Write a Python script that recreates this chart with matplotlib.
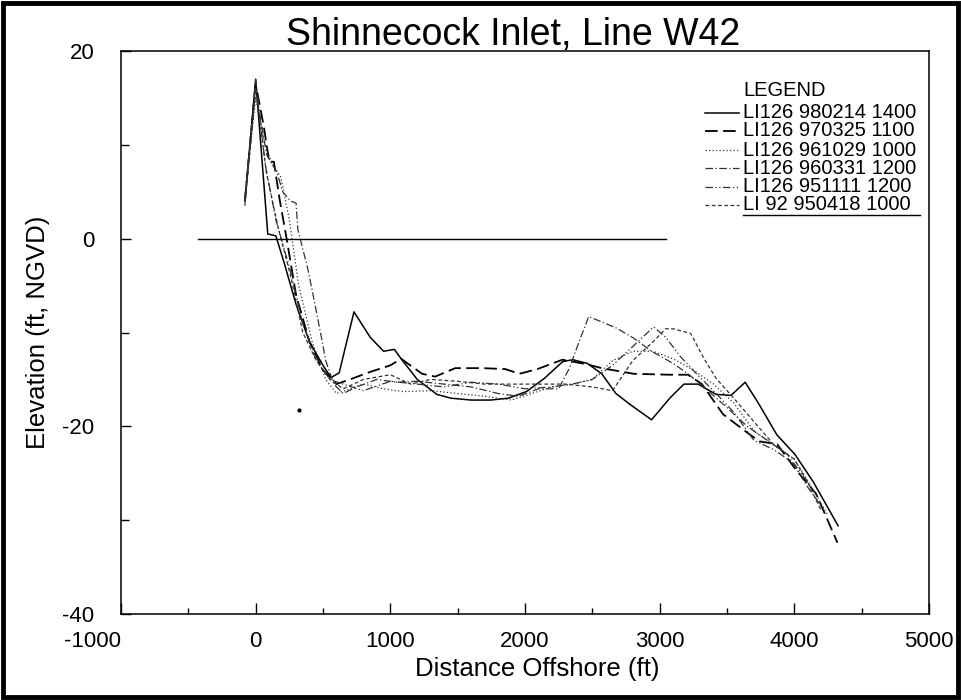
import matplotlib
matplotlib.use("Agg")
import matplotlib.pyplot as plt
from matplotlib.patches import Rectangle
from matplotlib.lines import Line2D
from matplotlib.ticker import MultipleLocator

plt.rcParams['font.family'] = ['Liberation Sans', 'DejaVu Sans']
plt.rcParams['axes.unicode_minus'] = False

# ---------------- data ----------------
labels = ["LI126 980214 1400", "LI126 970325 1100", "LI126 961029 1000",
          "LI126 960331 1200", "LI126 951111 1200", "LI 92 950418 1000"]

x_980214 = [-80, 0, 90, 150, 210, 300, 400, 500, 560, 620, 730, 850, 950, 1030, 1080, 1200, 1346,
            1450, 1600, 1744, 1876, 2010, 2143, 2280, 2355, 2464, 2570, 2675, 2783, 2940, 3075,
            3180, 3285, 3420, 3530, 3635, 3740, 3870, 4005, 4140, 4325]
y_980214 = [4, 17, 0.5, 0.3, -2.5, -7, -11, -13.5, -14.8, -14.3, -7.8, -10.5, -12, -11.8, -12.8, -15,
            -16.6, -17.0, -17.2, -17.2, -17.0, -16.3, -14.9, -13.1, -12.9, -13.3, -14.4, -16.5,
            -17.7, -19.3, -17.0, -15.5, -15.5, -16.6, -16.7, -15.3, -17.7, -20.9, -23.0, -25.9, -30.6]

x_970325 = [-80, 0, 60, 100, 135, 180, 230, 300, 400, 500, 600, 700, 850, 1000, 1080, 1236, 1333,
            1482, 1690, 1854, 1958, 2092, 2278, 2464, 2570, 2807, 3075, 3210, 3314, 3470, 3634,
            3740, 3872, 4005, 4162, 4320]
y_970325 = [4, 16.5, 12, 8.2, 8.2, 4, 0, -6, -11, -14, -15.5, -15, -14.2, -13.5, -12.8, -14.4, -14.7,
            -13.8, -13.8, -13.9, -14.4, -13.9, -12.9, -13.4, -13.8, -14.4, -14.5, -14.5, -15.5,
            -18.7, -20.5, -21.6, -21.9, -24.5, -27.2, -32.4]

x_961029 = [-80, 0, 60, 120, 186, 250, 320, 420, 520, 600, 700, 800, 950, 1100, 1300, 1500, 1700,
            1900, 2050, 2200, 2350, 2500, 2650, 2800, 2950, 3100, 3250, 3400, 3550, 3700, 3850,
            4000, 4150, 4250]
y_961029 = [4.5, 15, 10.6, 8, 6.6, 2, -5, -11, -15, -16.5, -16, -15.5, -16, -16.3, -16.2, -16.5,
            -16.8, -17.2, -16.5, -15.8, -15.5, -15, -13, -12, -12, -12.8, -14, -15.5, -17.5,
            -20.5, -22, -23.5, -27, -29.5]

x_960331 = [-80, 0, 80, 160, 200, 260, 300, 313, 387, 432, 484, 520, 580, 650, 750, 900, 1050,
            1200, 1400, 1600, 1800, 1950, 2100, 2250, 2330, 2383, 2473, 2675, 2807, 2940, 3100,
            3210, 3343, 3500, 3650, 3800, 3950, 4100, 4200]
y_960331 = [4, 16, 9, 7, 5, 4, 3.8, 1, -3.2, -6.4, -10.2, -13, -15.5, -16.5, -15.8, -15, -15.3,
            -15.2, -15.5, -15.8, -16.5, -16.8, -16, -16, -13.8, -11.7, -8.3, -9.5, -10.6, -12.0,
            -13.3, -14.4, -16.0, -18, -20, -21.5, -23, -26.5, -28.5]

x_951111 = [-80, 0, 70, 150, 250, 350, 450, 550, 650, 800, 1000, 1200, 1400, 1600, 1800, 2000,
            2200, 2350, 2500, 2650, 2800, 2955, 3045, 3150, 3280, 3420, 3550, 3700, 3850, 4000, 4150]
y_951111 = [4, 17, 8, 2, -3, -9, -13, -15, -15.5, -16.2, -15.2, -15.5, -15.8, -15.3, -15.5, -16.0,
            -15.8, -15.5, -15.0, -13.5, -11.5, -9.4, -10.5, -12.5, -14.5, -16.5, -18.5, -21.5,
            -22.5, -24, -27]

x_950418 = [-80, 0, 80, 170, 260, 350, 450, 550, 650, 800, 1000, 1150, 1300, 1500, 1700, 1900,
            2100, 2300, 2500, 2650, 2800, 2950, 3045, 3100, 3230, 3330, 3420, 3550, 3700, 3850,
            4000, 4100, 4200]
y_950418 = [3.5, 16, 7, 1, -4, -10, -13, -15, -16, -15, -14.5, -15.5, -15, -15.2, -15.5, -15.5,
            -15.5, -15.5, -15.8, -16.2, -13, -11, -9.6, -9.6, -10.1, -12.8, -14.9, -17, -19.5,
            -22, -23.5, -26, -29]

zero_x = [-430, 3050]
zero_y = [0, 0]
stray_x = [320]
stray_y = [-18.3]

x_ticks = [-1000, 0, 1000, 2000, 3000, 4000, 5000]
y_ticks = [-40, -20, 0, 20]

# ---------------- figure ----------------
fig = plt.figure(figsize=(9.61, 7.0), dpi=100)
ax = fig.add_axes([121/961, 1-614/700, 808/961, 563/700])

series_x = [x_980214, x_970325, x_961029, x_960331, x_951111, x_950418]
series_y = [y_980214, y_970325, y_961029, y_960331, y_951111, y_950418]
styles = ['-', (0, (7, 3)), (0, (1, 1.8)), (0, (6, 2, 1, 2)), (0, (6, 2, 1, 2, 1, 2)), (0, (3, 2))]
widths = [1.1, 1.3, 0.9, 0.9, 0.9, 0.9]
colors = ['black', 'black', '#333333', '#333333', '#333333', '#333333']

for xs, ys, ls, lw, c in zip(series_x, series_y, styles, widths, colors):
    ax.plot(xs, ys, color=c, linestyle=ls, linewidth=lw)

ax.plot(zero_x, zero_y, color='black', linewidth=1.0)
ax.plot(stray_x, stray_y, 'o', color='black', markersize=2)

ax.set_xlim(-1000, 5000)
ax.set_ylim(-40, 20)
ax.set_xticks(x_ticks)
ax.set_yticks(y_ticks)
ax.xaxis.set_minor_locator(MultipleLocator(500))
ax.yaxis.set_minor_locator(MultipleLocator(10))
ax.tick_params(axis='both', which='both', direction='in', top=False, right=False, colors='black')
ax.tick_params(axis='x', which='major', length=8, width=1.0, labelsize=16, pad=12)
ax.tick_params(axis='x', which='minor', length=4, width=1.0)
ax.tick_params(axis='y', which='major', length=7, width=1.0, labelsize=16, pad=19)
ax.tick_params(axis='y', which='minor', length=6, width=1.0)
for s in ax.spines.values():
    s.set_linewidth(1.1)

# the first x label sits left of the corner, right-aligned at the tick
fig.canvas.draw()
ax.get_xticklabels()[0].set_horizontalalignment('right')

ax.set_xlabel("Distance Offshore (ft)", fontsize=18.5, labelpad=0)
ax.xaxis.set_label_coords((537-121)/808, -(669-614)/563)
ax.xaxis.label.set_verticalalignment('center')
ax.set_ylabel("Elevation (ft, NGVD)", fontsize=18.5)
ax.yaxis.set_label_coords(-(121-38)/808, 0.5)
ax.yaxis.label.set_verticalalignment('center')

# title sitting on the top spine (spine acts as underline)
fig.text(513/961, 1-45/700, "Shinnecock Inlet, Line W42", fontsize=27,
         ha='center', va='baseline')

# manual legend
leg_x0 = (705-121)/808
leg_x1 = (739-121)/808
txt_x = (743-121)/808
ax.text(txt_x, 1-(90-51)/563, "LEGEND", transform=ax.transAxes, fontsize=14.5,
        ha='left', va='center')
entry_py = [113, 131, 150, 168, 187, 205]
for lab, ls, lw, c, py in zip(labels, styles, widths, colors, entry_py):
    yy = 1-(py-51)/563
    ax.add_line(Line2D([leg_x0, leg_x1], [yy, yy], transform=ax.transAxes,
                       linestyle=ls, linewidth=lw, color=c))
    ax.text(txt_x, yy, lab, transform=ax.transAxes, fontsize=14.5,
            ha='left', va='center')
# underline under last entry
uy = 1-(215-51)/563
ax.add_line(Line2D([txt_x, (920-121)/808], [uy, uy], transform=ax.transAxes,
                   color='black', linewidth=1.0))

# thick frame around figure
fig.patches.append(Rectangle((0.003, 0.004), 0.994, 0.992, transform=fig.transFigure,
                             fill=False, edgecolor='black', linewidth=3.5))

fig.savefig("out.png", dpi=100)
